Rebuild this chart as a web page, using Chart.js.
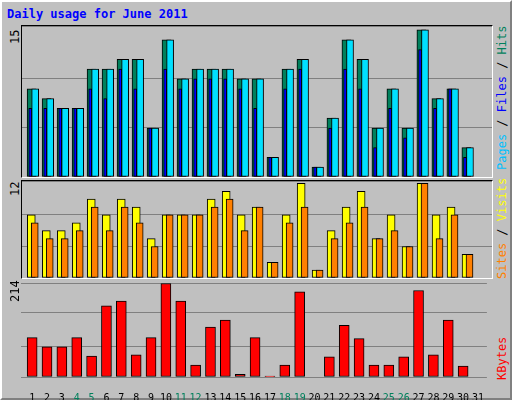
<!DOCTYPE html>
<html>
<head>
<meta charset="utf-8">
<script src="https://cdn.jsdelivr.net/npm/chart.js@4"></script>
<style>
  body { margin: 0; background: #fff; }
  #frame { position: absolute; left: 0; top: 0; width: 508px; height: 396px; background: #c0c0c0;
    border-top: 2px solid #fff; border-left: 2px solid #fff; border-right: 2px solid #808080; border-bottom: 2px solid #808080; }
  .panel { position: absolute; left: 19px; width: 470px; border: 1px solid #000; border-right-color: #fff; border-bottom-color: #fff; background: #c0c0c0; }
  .txt { position: absolute; font: 12px "DejaVu Sans Mono", monospace; white-space: nowrap; }
  .vleft { transform-origin: left top; transform: rotate(-90deg); }
</style>
</head>
<body>
<div id="frame">
  <div class="txt" style="left:5px;top:5px;color:#0000ff;font-weight:bold">Daily usage for June 2011</div>
  <div class="panel" style="top:23px;height:151px"><canvas id="c1"></canvas></div>
  <div class="panel" style="top:178px;height:97px"><canvas id="c2"></canvas></div>
  <div class="panel" style="top:278px;height:120px;border:none;background:none"><canvas id="c3"></canvas></div>
  <div class="txt vleft" style="left:6px;top:42px">15</div>
  <div class="txt vleft" style="left:6px;top:194px">12</div>
  <div class="txt vleft" style="left:6px;top:300px">214</div>
  <div class="txt vleft" style="left:493px;top:168px"><span style="color:#00c0ff">Pages</span> / <span style="color:#0000ff">Files</span> / <span style="color:#00805c">Hits</span></div>
  <div class="txt vleft" style="left:493px;top:277px"><span style="color:#ff8000">Sites</span> / <span style="color:#ffff00">Visits</span></div>
  <div class="txt vleft" style="left:493px;top:378px;color:#ff0000">KBytes</div>
</div>
<script>
// --- Data ---
const days = Array.from({ length: 31 }, (_, i) => i + 1);
const weekendDays = [4, 5, 11, 12, 18, 19, 25, 26];
const hits   = [9, 8, 7, 7, 11, 11, 12, 12, 5, 14, 10, 11, 11, 11, 10, 10, 2, 11, 12, 1, 6, 14, 12, 5, 9, 5, 15, 8, 9, 3, 0];
const files  = [7, 7, 7, 7, 9, 8, 11, 9, 5, 11, 9, 10, 10, 10, 9, 7, 2, 9, 11, 1, 5, 11, 9, 3, 7, 4, 13, 7, 9, 2, 0];
const pages  = [9, 8, 7, 7, 11, 11, 12, 12, 5, 14, 10, 11, 11, 11, 10, 10, 2, 11, 12, 1, 6, 14, 12, 5, 9, 5, 15, 8, 9, 3, 0];
const visits = [8, 6, 6, 7, 10, 8, 10, 9, 5, 8, 8, 8, 10, 11, 8, 9, 2, 8, 12, 1, 6, 9, 11, 5, 8, 4, 12, 8, 9, 3, 0];
const sites  = [7, 5, 5, 6, 9, 6, 9, 7, 4, 8, 8, 8, 9, 10, 6, 9, 2, 7, 9, 1, 5, 7, 9, 5, 6, 4, 12, 5, 8, 3, 0];
const kbytes = [90, 69, 69, 90, 48, 163, 174, 51, 90, 214, 174, 27, 114, 130, 6, 90, 2, 27, 195, 0, 46, 118, 88, 27, 27, 46, 198, 51, 130, 25, 0];
const kbGrid = [0, 70, 147, 214];

const pts = (vals, off) => vals.map((v, i) => ({ x: days[i] + off, y: v }));
// lower "order" is painted on top
const bar = (label, vals, off, color, w, order) => ({
  label, data: pts(vals, off), backgroundColor: color, borderColor: "#000",
  borderWidth: 1, borderSkipped: false, barThickness: w, grouped: false, order
});

function panelChart(id, h, datasets, yMax, yStep, withTicks, yTicks) {
  const cv = document.getElementById(id);
  cv.style.width = "470px"; cv.style.height = h + "px";
  return new Chart(cv, {
    type: "bar",
    data: { datasets },
    options: {
      responsive: false, animation: false,
      layout: { padding: 0 },
      plugins: { legend: { display: false }, tooltip: { enabled: false } },
      scales: {
        x: {
          type: "linear", min: 0.25, max: 31.6, offset: false,
          grid: { display: false }, border: { display: false },
          display: withTicks,
          afterBuildTicks: s => { s.ticks = days.map(d => ({ value: d })); },
          afterFit: s => { if (withTicks) s.height = 23; },
          ticks: {
            autoSkip: false, maxRotation: 0, padding: 7,
            font: { family: "DejaVu Sans Mono", size: 10 },
            color: c => weekendDays.includes(c.tick.value) ? "#00805c" : "#000",
            callback: v => String(v)
          }
        },
        y: {
          min: 0, max: yMax,
          afterFit: s => { s.width = 0; },
          afterBuildTicks: s => { if (yTicks) s.ticks = yTicks.map(v => ({ value: v })); },
          ticks: { display: false, stepSize: yStep },
          grid: { color: "#808080", drawTicks: false, lineWidth: 1 },
          border: { display: false }
        }
      }
    }
  });
}

panelChart("c1", 151, [
  bar("Hits", hits, -0.11, "#00805c", 9, 2),
  bar("Pages", pages, 0.13, "#00e0ff", 7, 1),
  bar("Files", files, -0.2, "#0000ff", 3, 0)
], 15.4, 5, false);

panelChart("c2", 97, [
  bar("Visits", visits, -0.13, "#ffff00", 8, 1),
  bar("Sites", sites, 0.1, "#ff8000", 7, 0)
], 12.3, 4, false);

panelChart("c3", 120, [
  bar("KBytes", kbytes, 0, "#ff0000", 10, 0)
], 222, 70, true, kbGrid);
</script>
</body>
</html>
